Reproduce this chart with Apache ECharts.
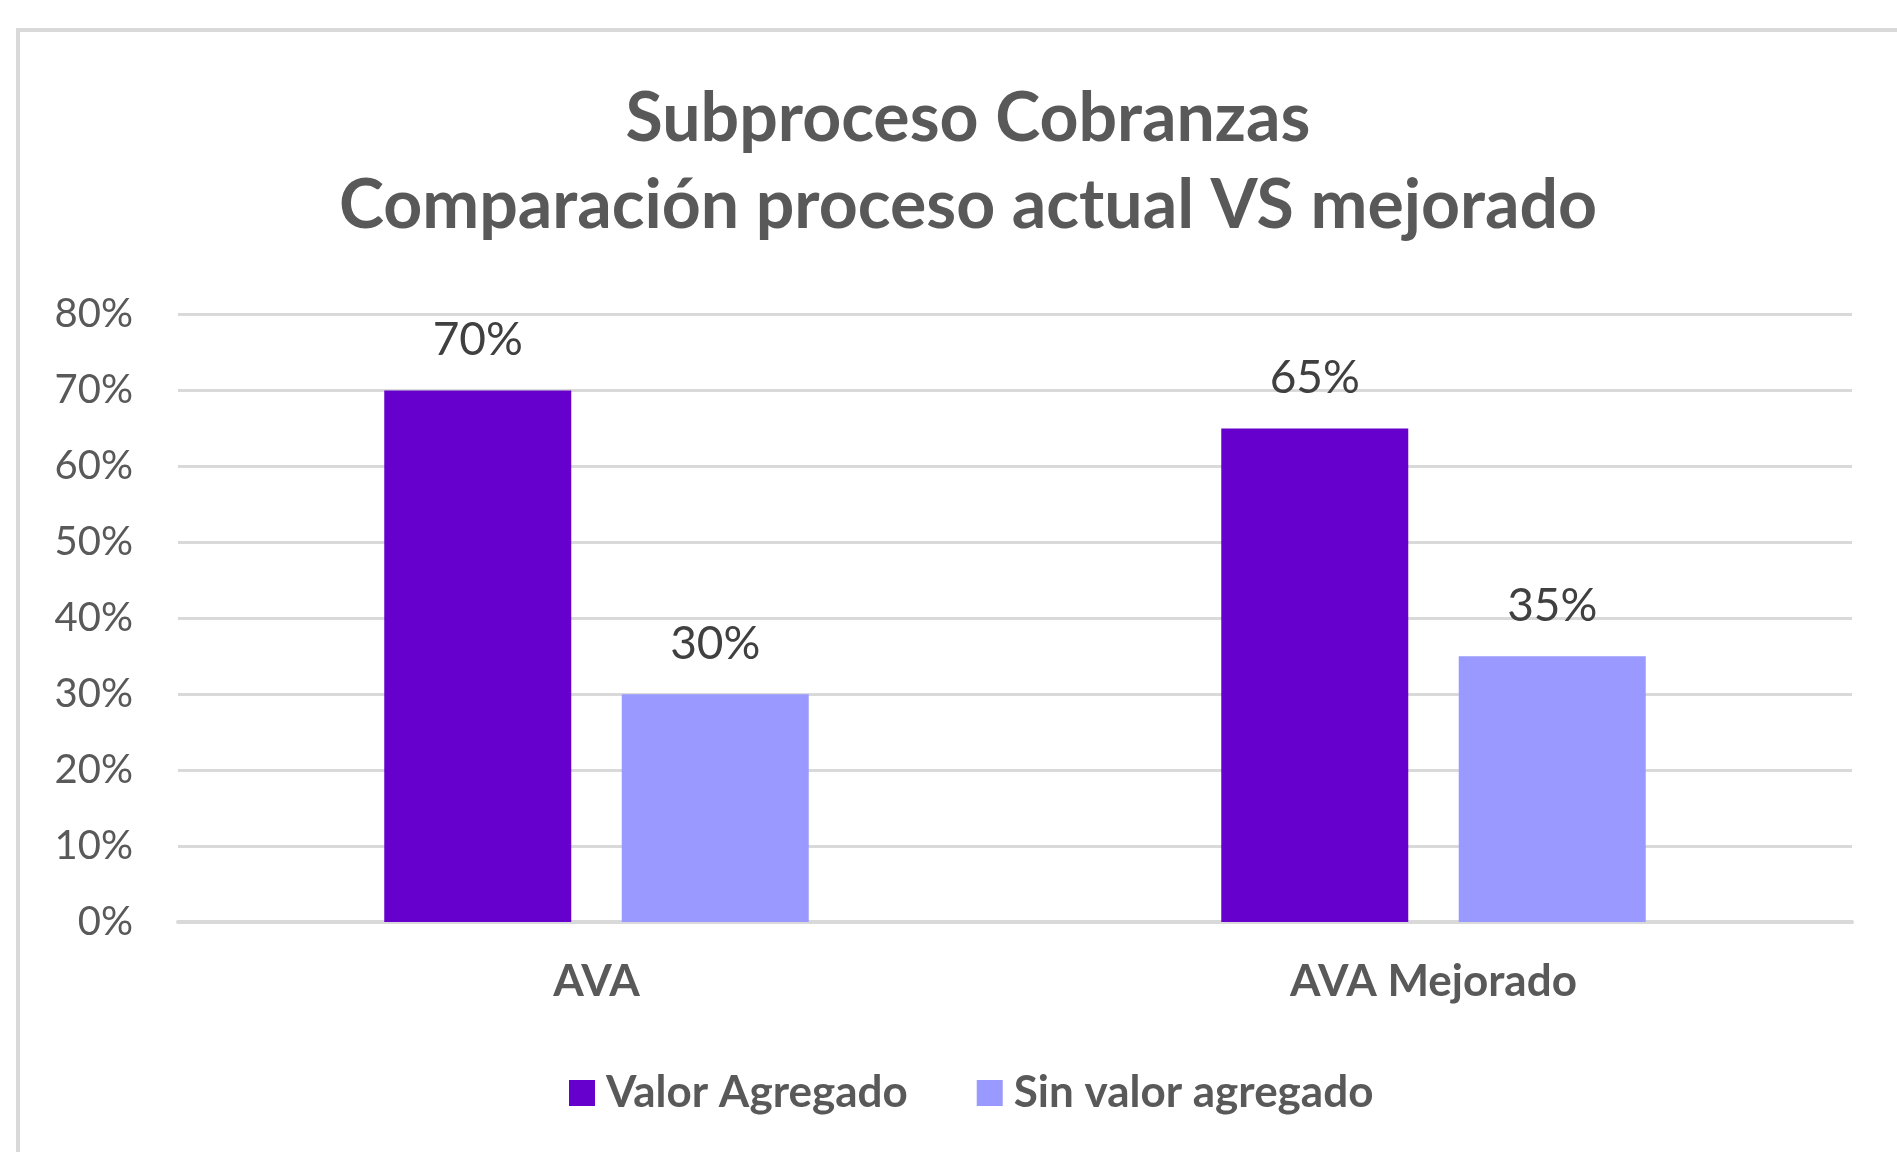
<!DOCTYPE html>
<html>
<head>
<meta charset="utf-8">
<script src="https://cdn.jsdelivr.net/npm/echarts@6/dist/echarts.min.js"></script>
<style>
html,body{margin:0;padding:0;background:#fff;}
#chart{width:1897px;height:1152px;}
</style>
</head>
<body>
<div id="chart"></div>
<script>
var categories = ['AVA', 'AVA Mejorado'];
var seriesNames = ['Valor Agregado', 'Sin valor agregado'];
var valorAgregado = [0.70, 0.65];
var sinValorAgregado = [0.30, 0.35];
var titleLines = ['Subproceso Cobranzas', 'Comparación proceso actual VS mejorado'];

var FONT = 'Lato, "Open Sans", "Noto Sans", sans-serif';
var chart = echarts.init(document.getElementById('chart'), null, {renderer: 'canvas'});
function pct(v){ return Math.round(v * 100) + '%'; }

chart.setOption({
  backgroundColor: '#ffffff',
  animation: false,
  graphic: [{
    type: 'rect',
    shape: {x: 18, y: 30, width: 2000, height: 1300},
    style: {fill: 'none', stroke: '#d9d9d9', lineWidth: 4},
    silent: true
  }],
  title: {
    text: titleLines.join('\n'),
    left: 963,
    textAlign: 'center',
    top: 71,
    textStyle: {
      fontFamily: FONT, fontWeight: 'bold', fontSize: 68,
      lineHeight: 87, color: '#595959'
    }
  },
  legend: {
    data: seriesNames,
    left: 564,
    top: 1066,
    itemWidth: 26,
    itemHeight: 26,
    itemGap: 69,
    icon: 'rect',
    textStyle: {fontFamily: FONT, fontWeight: 'bold', fontSize: 44, color: '#595959', padding: [0,0,0,6]}
  },
  grid: {left: 178, right: 45, top: 314.5, bottom: 230, containLabel: false},
  xAxis: {
    type: 'category',
    data: categories,
    axisLine: {show: true, lineStyle: {color: '#d9d9d9', width: 4}},
    axisTick: {show: false},
    axisLabel: {margin: 38, fontFamily: FONT, fontWeight: 'bold', fontSize: 44, color: '#595959'}
  },
  yAxis: {
    type: 'value',
    min: 0, max: 0.8, interval: 0.1,
    axisLine: {show: false},
    axisTick: {show: false},
    splitLine: {lineStyle: {color: '#d9d9d9', width: 3}},
    axisLabel: {margin: 45, fontFamily: FONT, fontSize: 40, color: '#595959', formatter: pct}
  },
  series: [{
    name: seriesNames[0],
    type: 'bar',
    data: valorAgregado,
    barWidth: 187,
    barGap: '27%',
    itemStyle: {color: '#6600CC'},
    label: {show: true, position: 'top', distance: 27, formatter: function(p){return pct(p.value);},
      fontFamily: FONT, fontSize: 46, color: '#404040'}
  }, {
    name: seriesNames[1],
    type: 'bar',
    data: sinValorAgregado,
    barWidth: 187,
    barGap: '27%',
    itemStyle: {color: '#9999FF'},
    label: {show: true, position: 'top', distance: 27, formatter: function(p){return pct(p.value);},
      fontFamily: FONT, fontSize: 46, color: '#404040'}
  }]
});
</script>
</body>
</html>
